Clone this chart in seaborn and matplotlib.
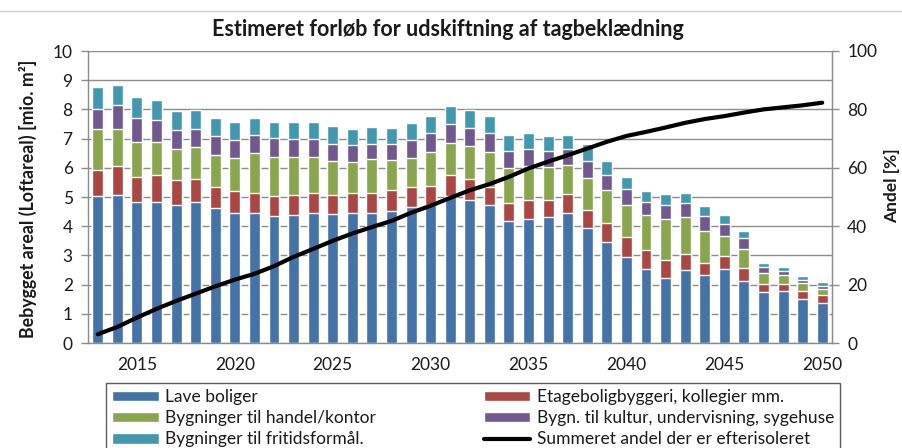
import numpy as np
import pandas as pd
import matplotlib
matplotlib.use("Agg")
import matplotlib.pyplot as plt
import seaborn as sns
from matplotlib.patches import Patch
from matplotlib.lines import Line2D

years = list(range(2013, 2051))
lave_boliger = [5.04, 5.07, 4.83, 4.83, 4.72, 4.83, 4.61, 4.45, 4.45, 4.34,
                4.38, 4.45, 4.42, 4.45, 4.46, 4.53, 4.65, 4.71, 5.04, 4.91,
                4.72, 4.17, 4.25, 4.30, 4.46, 3.95, 3.46, 2.94, 2.55, 2.24,
                2.51, 2.32, 2.55, 2.13, 1.74, 1.77, 1.50, 1.38]
etagebolig = [0.89, 0.98, 0.87, 0.91, 0.87, 0.79, 0.74, 0.75, 0.70, 0.70,
              0.69, 0.67, 0.65, 0.67, 0.69, 0.70, 0.70, 0.67, 0.70, 0.71,
              0.63, 0.64, 0.64, 0.59, 0.63, 0.59, 0.64, 0.69, 0.63, 0.59,
              0.55, 0.42, 0.43, 0.43, 0.27, 0.24, 0.28, 0.28]
handel_kontor = [1.40, 1.28, 1.17, 1.16, 1.04, 1.09, 1.08, 1.12, 1.35, 1.33,
                 1.30, 1.25, 1.17, 1.09, 1.14, 1.02, 1.00, 1.17, 1.12, 1.12,
                 1.20, 1.17, 1.17, 1.13, 1.00, 1.12, 1.13, 1.10, 1.20, 1.43,
                 1.24, 1.09, 0.70, 0.65, 0.39, 0.31, 0.28, 0.19]
kultur = [0.69, 0.82, 0.84, 0.75, 0.67, 0.62, 0.67, 0.63, 0.64, 0.66,
          0.62, 0.62, 0.59, 0.58, 0.53, 0.57, 0.60, 0.63, 0.63, 0.63,
          0.63, 0.61, 0.58, 0.57, 0.55, 0.58, 0.51, 0.54, 0.45, 0.47,
          0.50, 0.51, 0.39, 0.39, 0.19, 0.16, 0.11, 0.10]
fritid = [0.73, 0.70, 0.70, 0.68, 0.65, 0.64, 0.61, 0.62, 0.57, 0.54,
          0.58, 0.58, 0.61, 0.54, 0.59, 0.55, 0.57, 0.58, 0.61, 0.60,
          0.58, 0.54, 0.54, 0.51, 0.49, 0.58, 0.50, 0.43, 0.36, 0.38,
          0.35, 0.35, 0.31, 0.23, 0.16, 0.11, 0.12, 0.13]
andel = [3.0, 5.5, 8.7, 11.7, 14.4, 16.9, 19.4, 21.7, 23.7, 26.3,
         29.5, 32.2, 35.0, 37.5, 39.7, 41.8, 44.6, 47.0, 49.7, 52.3,
         54.4, 56.9, 59.8, 62.1, 64.3, 66.6, 68.9, 70.9, 72.3, 73.8,
         75.4, 76.7, 77.7, 78.9, 80.0, 80.7, 81.4, 82.3]

series_names = ["Lave boliger", "Etageboligbyggeri, kollegier mm.",
                "Bygninger til handel/kontor", "Bygn. til kultur, undervisning, sygehuse",
                "Bygninger til fritidsformål."]
line_name = "Summeret andel der er efterisoleret"
colors = ["#4572A7", "#AA4643", "#89A54E", "#71588F", "#4198AF"]
xtick_years = [2015, 2020, 2025, 2030, 2035, 2040, 2045, 2050]

sns.set_style("white")
plt.rcParams['font.family'] = ['Lato', 'DejaVu Sans']

df = pd.DataFrame({"year": [str(y) for y in years]})
layers = [lave_boliger, etagebolig, handel_kontor, kultur, fritid]
cum = np.cumsum(np.array(layers), axis=0)

fig = plt.figure(figsize=(9.03, 4.48), dpi=100)
ax = fig.add_axes([88/903, 1 - 343/448, (832-88)/903, (343-51)/448])

# draw stacked layers from top (total) to bottom
for i in range(len(layers) - 1, -1, -1):
    df["v"] = cum[i]
    sns.barplot(data=df, x="year", y="v", color=colors[i], saturation=1,
                width=0.56, errorbar=None, ax=ax, zorder=2)

ax.set_xlim(-0.5, len(years) - 0.5)
ax.set_ylim(0, 10)
ax.set_yticks(range(0, 11))
ax.set_xlabel("")
ax.set_ylabel("")
grid_c = "#8c8c8c"
ax.yaxis.grid(True, color=grid_c, lw=1.0, zorder=0)
ax.set_axisbelow(True)
ax.spines["top"].set_visible(False)
for s in ["left", "bottom", "right"]:
    ax.spines[s].set_color(grid_c)
    ax.spines[s].set_linewidth(1.0)

major_pos = [years.index(y) for y in xtick_years]
ax.set_xticks(major_pos)
ax.set_xticklabels([str(y) for y in xtick_years])
ax.set_xticks(np.arange(-0.5, len(years), 1.0), minor=True)
ax.tick_params(axis="x", which="major", length=0, pad=10, labelsize=12.5, labelcolor="#1a1a1a")
ax.tick_params(axis="x", which="minor", length=6, color=grid_c, width=1, direction="out")
ax.tick_params(axis="y", length=5, color=grid_c, width=1, direction="out",
               labelsize=12.5, labelcolor="#1a1a1a", pad=6, left=True)

ax2 = ax.twinx()
sns.lineplot(x=np.arange(len(years)), y=andel, ax=ax2, color="black", lw=3.0,
             solid_capstyle="round", solid_joinstyle="round")
ax2.set_ylim(0, 100)
ax2.set_yticks(range(0, 101, 20))
ax2.set_xlim(-0.5, len(years) - 0.5)
ax2.set_ylabel("")
for s in ["top", "left", "bottom"]:
    ax2.spines[s].set_visible(False)
ax2.spines["right"].set_color(grid_c)
ax2.tick_params(axis="y", length=5, color=grid_c, width=1, direction="out",
                labelsize=12.5, labelcolor="#1a1a1a", pad=6, right=True)

fig.text(28/903, 1 - 199/448, "Bebygget areal (Loftareal) [mio. m²]", rotation=90,
         ha="center", va="center", fontsize=12.8, fontweight="bold", color="#1a1a1a")
fig.text(892/903, 1 - 186/448, "Andel [%]", rotation=90,
         ha="center", va="center", fontsize=12.5, fontweight="bold", color="#1a1a1a")
fig.text(448/903, 1 - 30/448, "Estimeret forløb for udskiftning af tagbeklædning",
         ha="center", va="center", fontsize=15.5, fontweight="bold", color="#1a1a1a")

fig.add_artist(Line2D([0, 1], [1 - 11/448, 1 - 11/448], color="#d0d0d0", lw=1,
                      transform=fig.transFigure))

handles = [Patch(facecolor=colors[0]), Patch(facecolor=colors[2]), Patch(facecolor=colors[4]),
           Patch(facecolor=colors[1]), Patch(facecolor=colors[3]),
           Line2D([], [], color="black", lw=3)]
labels = [series_names[0], series_names[2], series_names[4],
          series_names[1], series_names[3], line_name]
leg = fig.legend(handles, labels, ncol=2, loc="upper left",
                 bbox_to_anchor=(106/903, 1 - 383/448 - 0.01, (840-106)/903, 0.01),
                 mode="expand", frameon=True, fancybox=False, edgecolor="#333333",
                 fontsize=12.5, handlelength=2.7, handleheight=0.55, handletextpad=0.35,
                 labelspacing=0.3, borderpad=0.35, borderaxespad=0)
leg.get_frame().set_linewidth(1.0)
for t in leg.get_texts():
    t.set_color("#1a1a1a")

fig.savefig("out.png", dpi=100)
